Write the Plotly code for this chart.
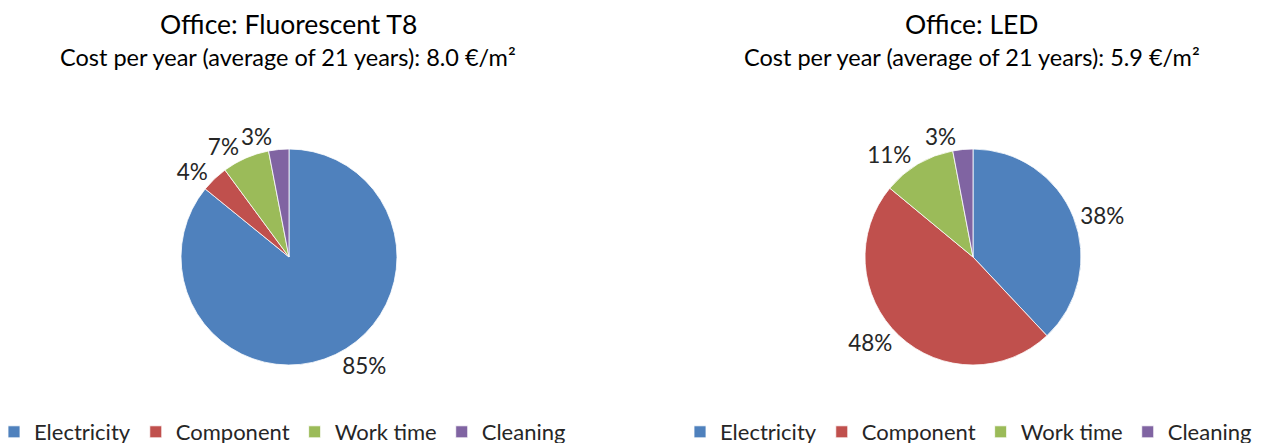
import plotly.graph_objects as go

categories = ["Electricity", "Component", "Work time", "Cleaning"]
t8_values = [85, 4, 7, 3]
led_values = [38, 48, 11, 3]
t8_title = "Office: Fluorescent T8"
t8_sub = "Cost per year (average of 21 years): 8.0 €/m²"
led_title = "Office: LED"
led_sub = "Cost per year (average of 21 years): 5.9 €/m²"
colors = ["#4F81BD", "#C0504D", "#9BBB59", "#8064A2"]

W, H = 1262, 443
FONT = "Lato"
TXT = "#262626"


def dom(cx, cy, r):
    return dict(x=[(cx - r) / W, (cx + r) / W], y=[1 - (cy + r) / H, 1 - (cy - r) / H])


fig = go.Figure()
# Labels split over two overlaid, identical pies so Plotly does not shift them
# (and draw leader lines) to avoid neighbours in the same quadrant.
groups = [
    (["outside", "none", "outside", "none"], colors, True, "label+value"),
    (["none", "outside", "none", "outside"], ["rgba(0,0,0,0)"] * 4, False, "skip"),
]
charts = [(t8_values, 289, "legend", "t8"), (led_values, 973, "legend2", "led")]
for vals, cx, legend_id, grp in charts:
    for positions, cols, show, hov in groups:
        fig.add_trace(go.Pie(
            labels=categories,
            values=vals,
            text=[f"{v}%" for v in vals],
            textinfo="text",
            textposition=positions,
            sort=False,
            direction="clockwise",
            rotation=0,
            marker=dict(colors=cols, line=dict(color="white", width=0.8 if show else 0)),
            outsidetextfont=dict(family=FONT, size=22.5, color=TXT),
            domain=dom(cx, 257, 108),
            legend=legend_id,
            legendgroup=grp,
            showlegend=show,
            hoverinfo=hov,
        ))

annots = []
for title, sub, x in [(t8_title, t8_sub, 288), (led_title, led_sub, 972)]:
    annots.append(dict(text=title, x=x / W, y=1 - 24 / H, xref="paper", yref="paper",
                       showarrow=False, xanchor="center", yanchor="middle",
                       font=dict(family=FONT, size=26.5, color="#000000")))
    annots.append(dict(text=sub, x=x / W, y=1 - 57 / H, xref="paper", yref="paper",
                       showarrow=False, xanchor="center", yanchor="middle",
                       font=dict(family=FONT, size=23.5, color="#000000")))

legend_style = dict(orientation="h", yanchor="middle", xanchor="left", traceorder="normal",
                    font=dict(family=FONT, size=22, color=TXT),
                    bgcolor="rgba(0,0,0,0)", itemclick=False, itemdoubleclick=False)

fig.update_layout(
    width=W, height=H,
    margin=dict(l=0, r=0, t=0, b=0, autoexpand=False),
    paper_bgcolor="white", plot_bgcolor="white",
    annotations=annots,
    legend=dict(x=-6 / W, y=1 - 432 / H, **legend_style),
    legend2=dict(x=680 / W, y=1 - 432 / H, **legend_style),
)

fig.write_html(
    "out.html",
    config={"displayModeBar": False},
    post_script="document.body.style.margin='0';document.body.style.overflow='hidden';",
)
